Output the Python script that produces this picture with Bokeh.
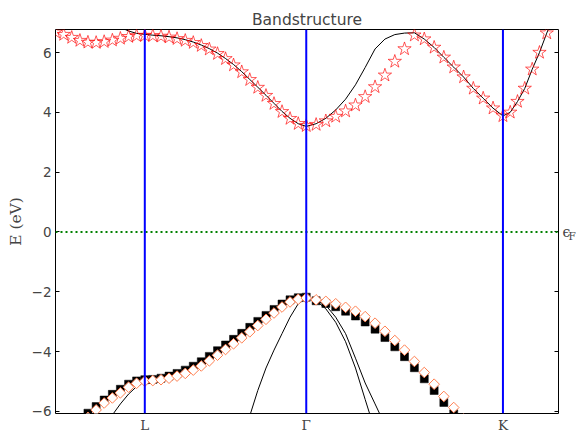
import numpy as np
from bokeh.plotting import figure
from bokeh.models import Range1d, FixedTicker, Span, LinearAxis
from bokeh.embed import file_html
from bokeh.resources import INLINE

# ---- k-path sampling (path coordinate) ----
K_SEG1 = [0.021, 0.065, 0.108, 0.152, 0.195, 0.239, 0.282, 0.326, 0.369, 0.413, 0.456, 0.500]
K_SEG2 = [0.543, 0.587, 0.630, 0.673, 0.717, 0.760, 0.803, 0.846, 0.890, 0.933,
          0.976, 1.020, 1.063, 1.106, 1.150, 1.193, 1.236, 1.279, 1.323, 1.366]
K_SEG3 = [1.419, 1.471, 1.524, 1.577, 1.630, 1.682, 1.735, 1.788, 1.841, 1.893,
          1.946, 1.999, 2.052, 2.104, 2.157, 2.210, 2.262, 2.315, 2.368, 2.421]
K_SEG4 = [2.460, 2.499, 2.538, 2.578, 2.617, 2.656, 2.695]
k_points = K_SEG1 + K_SEG2 + K_SEG3 + K_SEG4

SYM_LABELS = ["L", "\u0393", "K"]
SYM_K = [0.500, 1.366, 2.421]
E_FERMI = 0.0
FERMI_LABEL = "\u03f5"
FERMI_SUB = "F"
Y_TICKS = [-6, -4, -2, 0, 2, 4, 6]
X_LIMITS = (0.021, 2.719)
Y_LIMITS = (-6.07, 6.77)

# ---- conduction band, fitted (stars) ----
cb_fit = [6.68, 6.60, 6.50, 6.40, 6.34, 6.33, 6.36, 6.41, 6.47, 6.53, 6.56, 6.57,
          6.56, 6.54, 6.51, 6.46, 6.40, 6.33, 6.23, 6.11, 5.96, 5.79, 5.58, 5.35, 5.09, 4.83,
          4.56, 4.29, 4.02, 3.79, 3.62, 3.55,
          3.59, 3.71, 3.86, 4.04, 4.24, 4.52, 4.85, 5.24, 5.70, 6.12, 6.58, 6.45, 6.17, 5.84,
          5.51, 5.18, 4.80, 4.47, 4.14, 3.88,
          4.00, 4.36, 4.80, 5.44, 6.00, 6.65, 7.25]

# ---- conduction band, reference (black line) ----
cb_ref_start = 8
cb_ref = [6.84, 6.72, 6.64, 6.61,
          6.58, 6.56, 6.53, 6.49, 6.43, 6.35, 6.25, 6.13, 5.98, 5.80, 5.60, 5.36, 5.10, 4.84,
          4.57, 4.30, 4.03, 3.80, 3.62, 3.53,
          3.62, 3.80, 4.08, 4.44, 4.92, 5.50, 6.12, 6.45, 6.60, 6.65, 6.66, 6.45, 6.17, 5.84,
          5.51, 5.18, 4.80, 4.47, 4.14, 3.88,
          4.00, 4.36, 4.80, 5.44, 6.00, 6.65, 7.25]

# ---- valence band, fitted (diamonds) ----
vb_fit_start = 4
vb_fit = [-6.20, -5.95, -5.72, -5.55, -5.38, -5.19, -5.06, -4.99,
          -4.97, -4.94, -4.89, -4.82, -4.73, -4.62, -4.48, -4.31, -4.12, -3.93, -3.74, -3.54,
          -3.34, -3.13, -2.92, -2.71, -2.51, -2.34, -2.25, -2.21,
          -2.27, -2.32, -2.40, -2.52, -2.65, -2.83, -3.05, -3.32, -3.63, -3.95, -4.33, -4.70,
          -5.09, -5.50, -5.87, -6.25]

# ---- valence band, second set (black squares) ----
vb_alt_start = 4
vb_alt = [-6.06, -5.84, -5.62, -5.43, -5.26, -5.09, -4.98, -4.94,
          -4.93, -4.89, -4.82, -4.73, -4.62, -4.49, -4.34, -4.16, -3.97, -3.78, -3.59, -3.39,
          -3.19, -2.99, -2.79, -2.59, -2.41, -2.27, -2.20, -2.18,
          -2.30, -2.39, -2.50, -2.65, -2.81, -3.01, -3.25, -3.53, -3.84, -4.17, -4.54, -4.91,
          -5.30, -5.70, -6.08]

# ---- valence bands, reference (black lines) ----
band_a_start = 7
band_a = [-6.12, -5.75, -5.42, -5.17, -4.99,
          -4.97, -4.94, -4.89, -4.82, -4.73, -4.62, -4.48, -4.31, -4.12, -3.93, -3.74, -3.54,
          -3.34, -3.13, -2.92, -2.71, -2.51, -2.34, -2.25, -2.21,
          -2.30, -2.57, -3.02, -3.67, -4.55, -5.60, -6.65]
band_b_start = 24
band_b = [-6.15, -5.30, -4.55, -3.95, -3.40, -2.85, -2.40, -2.21,
          -2.27, -2.45, -2.85, -3.40, -4.22, -5.05, -5.75, -6.45]


def kslice(start, vals):
    return k_points[start:start + len(vals)]


p = figure(width=579, height=435,
           x_range=Range1d(*X_LIMITS), y_range=Range1d(*Y_LIMITS),
           output_backend="svg", toolbar_location=None, title="Bandstructure",
           min_border_left=55, min_border_right=21, min_border_top=29, min_border_bottom=21)
p.background_fill_color = "white"
p.border_fill_color = "white"
p.xgrid.visible = False
p.ygrid.visible = False
p.outline_line_color = "black"
p.outline_line_width = 1
p.outline_line_alpha = 1

p.title.text_font = "DejaVu Sans"
p.title.text_font_size = "15.5px"
p.title.text_font_style = "normal"
p.title.align = "center"
p.title.standoff = 2

xa = p.xaxis[0]
xa.ticker = FixedTicker(ticks=SYM_K)
xa.major_label_overrides = dict(zip(SYM_K, SYM_LABELS))
xa.minor_tick_line_color = None
xa.major_tick_in = 4
xa.major_tick_out = 0
xa.axis_line_color = None
xa.major_label_text_font = "DejaVu Serif"
xa.major_label_text_font_size = "13.5px"
xa.major_label_standoff = 3

ya = p.yaxis[0]
ya.ticker = FixedTicker(ticks=Y_TICKS)
ya.major_label_overrides = {t: str(t).replace("-", "\u2212") for t in Y_TICKS}
ya.minor_tick_line_color = None
ya.major_tick_in = 4
ya.major_tick_out = 0
ya.axis_line_color = None
ya.major_label_text_font = "DejaVu Sans"
ya.major_label_text_font_size = "13.5px"
ya.major_label_standoff = 4
ya.axis_label = "E (eV)"
ya.axis_label_text_font = "DejaVu Serif"
ya.axis_label_text_font_size = "15.5px"
ya.axis_label_text_font_style = "normal"
ya.axis_label_standoff = 4

# right side: inward tick marks plus the Fermi-level symbol at 0
ra1 = LinearAxis(ticker=FixedTicker(ticks=Y_TICKS))
ra1.major_label_overrides = {t: (FERMI_LABEL if t == E_FERMI else "") for t in Y_TICKS}
ra1.minor_tick_line_color = None
ra1.major_tick_in = 4
ra1.major_tick_out = 0
ra1.axis_line_color = None
ra1.major_label_standoff = 4
ra1.major_label_text_font = "DejaVu Serif"
ra1.major_label_text_font_size = "14px"
p.add_layout(ra1, "right")

# subscript F
ra2 = LinearAxis(ticker=FixedTicker(ticks=[-0.15]))
ra2.major_label_overrides = {-0.15: FERMI_SUB}
ra2.minor_tick_line_color = None
ra2.major_tick_line_color = None
ra2.major_tick_in = 0
ra2.major_tick_out = 0
ra2.axis_line_color = None
ra2.major_label_standoff = -5
ra2.major_label_text_font = "DejaVu Serif"
ra2.major_label_text_font_size = "10.5px"
p.add_layout(ra2, "right")

# reference bands (thin black lines)
p.line(kslice(band_a_start, band_a), band_a, line_color="black", line_width=1)
p.line(kslice(band_b_start, band_b), band_b, line_color="black", line_width=1)
p.line(kslice(cb_ref_start, cb_ref), cb_ref, line_color="black", line_width=1)

# valence band markers
p.scatter(kslice(vb_alt_start, vb_alt), vb_alt, marker="square", size=8,
          fill_color="black", line_color="black", line_width=0.5)
p.scatter(kslice(vb_fit_start, vb_fit), vb_fit, marker="square", size=7.5, angle=np.pi / 4,
          fill_color="white", line_color="coral", line_width=1)

# conduction band stars
p.scatter(k_points, cb_fit, marker="star", size=14, fill_color=None,
          line_color="red", line_alpha=0.65, line_width=1)

# Fermi level and high-symmetry lines
p.add_layout(Span(location=E_FERMI, dimension="width", line_color="green",
                  line_dash="2 3", line_width=2))
for ks in SYM_K:
    p.add_layout(Span(location=ks, dimension="height", line_color="blue", line_width=2))

open("out.html", "w").write(file_html(p, INLINE))
